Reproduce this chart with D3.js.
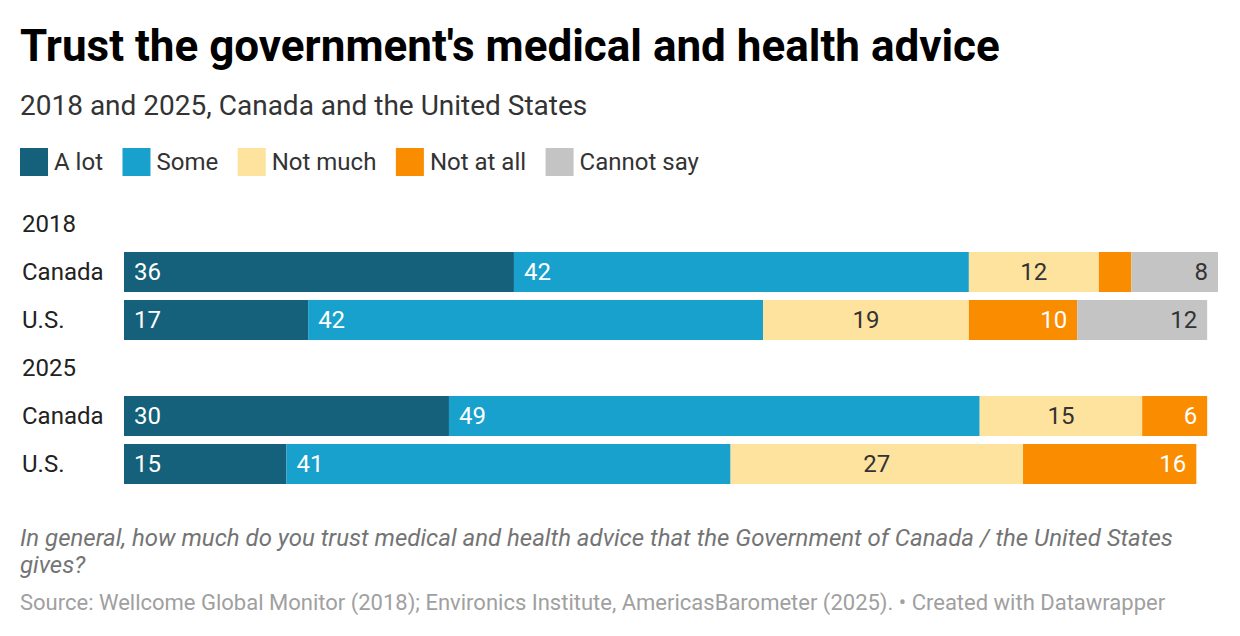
<!DOCTYPE html>
<html>
<head>
<meta charset="utf-8">
<script src="https://cdn.jsdelivr.net/npm/d3@7"></script>
<style>
  body { margin: 0; background: #fff; }
  svg { font-family: Roboto, "Noto Sans", sans-serif; }
</style>
</head>
<body>
<div id="chart"></div>
<script>
var width = 1240, height = 636;

// data
var series = ["A lot", "Some", "Not much", "Not at all", "Cannot say"];
var colors = ["#15607a", "#18a1cd", "#fee39f", "#fa8c00", "#c4c4c4"];
var textColors = ["#fff", "#fff", "#333", "#fff", "#333"];
var labelAlign = ["left", "left", "center", "right", "right"];

var years = ["2018", "2025"];
var countries = ["Canada", "U.S."];

var canada2018 = [36, 42, 12, 3, 8];
var us2018     = [17, 42, 19, 10, 12];
var canada2025 = [30, 49, 15, 6, 0];
var us2025     = [15, 41, 27, 16, 0];

var rows = [
  { year: "2018", country: "Canada", values: canada2018 },
  { year: "2018", country: "U.S.",   values: us2018 },
  { year: "2025", country: "Canada", values: canada2025 },
  { year: "2025", country: "U.S.",   values: us2025 }
];

var svg = d3.select("#chart")
  .append("svg")
    .attr("width", width)
    .attr("height", height);

// title block
svg.append("text")
    .attr("x", 20)
    .attr("y", 61)
    .style("font-size", "44px")
    .style("font-weight", "700")
    .style("fill", "#000")
    .text("Trust the government's medical and health advice");

svg.append("text")
    .attr("x", 20)
    .attr("y", 115)
    .style("font-size", "28px")
    .style("fill", "#333")
    .text("2018 and 2025, Canada and the United States");

// legend
var legend = svg.append("g").attr("transform", "translate(20,148)");
var lx = 0;
series.forEach(function(s, i) {
  var g = legend.append("g").attr("transform", `translate(${lx},0)`);
  g.append("rect")
    .attr("width", 28)
    .attr("height", 28)
    .attr("fill", colors[i]);
  var t = g.append("text")
    .attr("x", 34)
    .attr("y", 14)
    .attr("dy", "0.35em")
    .style("font-size", "24px")
    .style("fill", "#333")
    .text(s);
  lx += 34 + t.node().getComputedTextLength() + 19.5;
});

// slots: a header per year then a bar per country
var slots = [];
years.forEach(function(y) {
  slots.push(y);
  countries.forEach(function(c) { slots.push(y + "|" + c); });
});

var y = d3.scaleBand()
  .domain(slots)
  .range([204, 484])
  .paddingInner(8 / 48)
  .paddingOuter(0);

var x = d3.scaleLinear()
  .domain([0, d3.max(rows, d => d3.sum(d.values))])
  .range([124, 1218]);

// year headers
svg.selectAll(".year")
  .data(years)
  .join("text")
    .attr("class", "year")
    .attr("x", 22)
    .attr("y", d => y(d) + y.bandwidth() / 2)
    .attr("dy", "0.32em")
    .style("font-size", "24px")
    .style("fill", "#222")
    .text(d => d);

// row labels
svg.selectAll(".rowlabel")
  .data(rows)
  .join("text")
    .attr("class", "rowlabel")
    .attr("x", 22)
    .attr("y", d => y(d.year + "|" + d.country) + y.bandwidth() / 2)
    .attr("dy", "0.32em")
    .style("font-size", "24px")
    .style("fill", "#222")
    .text(d => d.country);

// stacked segments
var segs = [];
rows.forEach(function(r) {
  var acc = 0;
  r.values.forEach(function(v, i) {
    if (v > 0) segs.push({ key: r.year + "|" + r.country, i: i, x0: acc, x1: acc + v, v: v });
    acc += v;
  });
});

svg.append("g")
  .selectAll("rect")
  .data(segs)
  .join("rect")
    .attr("x", d => x(d.x0))
    .attr("y", d => y(d.key))
    .attr("width", d => x(d.x1) - x(d.x0))
    .attr("height", y.bandwidth())
    .attr("fill", d => colors[d.i]);

svg.append("g")
  .selectAll("text")
  .data(segs.filter(d => x(d.x1) - x(d.x0) > 40))
  .join("text")
    .attr("x", function(d) {
      if (labelAlign[d.i] == "left") return x(d.x0) + 10;
      if (labelAlign[d.i] == "right") return x(d.x1) - 10;
      return (x(d.x0) + x(d.x1)) / 2;
    })
    .attr("y", d => y(d.key) + y.bandwidth() / 2)
    .attr("dy", "0.35em")
    .attr("text-anchor", d => labelAlign[d.i] == "left" ? "start" : labelAlign[d.i] == "right" ? "end" : "middle")
    .style("font-size", "24px")
    .style("fill", d => textColors[d.i])
    .text(d => d.v);

// notes
var note = svg.append("text")
    .attr("x", 20)
    .attr("y", 546)
    .style("font-size", "24px")
    .style("font-style", "italic")
    .style("fill", "#747474");
note.append("tspan")
    .attr("x", 20)
    .text("In general, how much do you trust medical and health advice that the Government of Canada / the United States");
note.append("tspan")
    .attr("x", 20)
    .attr("dy", 27)
    .text("gives?");

svg.append("text")
    .attr("x", 20)
    .attr("y", 610)
    .style("font-size", "22px")
    .style("fill", "#a0a0a0")
    .text("Source: Wellcome Global Monitor (2018); Environics Institute, AmericasBarometer (2025). • Created with Datawrapper");
</script>
</body>
</html>
